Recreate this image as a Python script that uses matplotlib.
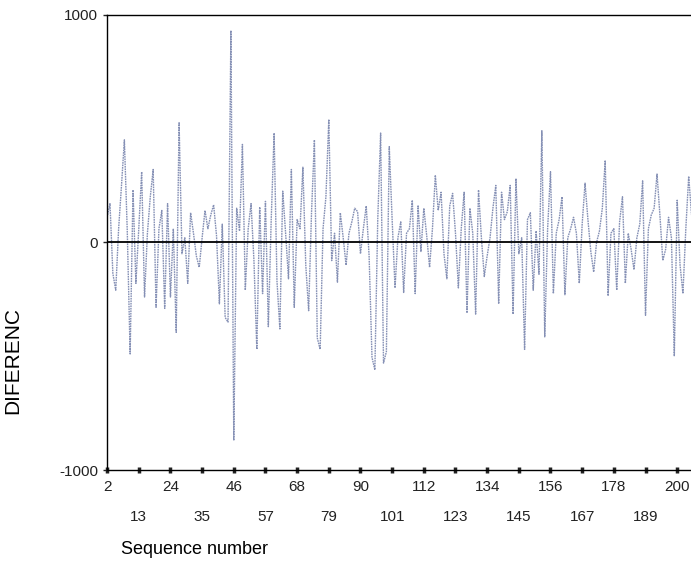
# Grafico de secuencia de las diferencias (estilo SPSS)
import matplotlib
matplotlib.use("Agg")
import matplotlib.pyplot as plt

# datos
secuencia = list(range(2, 206))

diferencias = [
    110, 170, -137, -210, 60, 250, 450, 50, -490, 230,
    -180, 60, 310, -240, 40, 200, 320, -285, 60, 140,
    -290, 170, -240, 60, -395, 525, -50, 20, -180, 130,
    40, -60, -110, 20, 140, 60, 120, 165, 30, -270,
    80, -330, -350, 930, -870, 150, 50, 430, -210, 60,
    170, -80, -470, 155, -225, 180, -370, 100, 480, -170,
    -380, 225, 40, -160, 320, -285, 100, 60, 330, -100,
    -300, 130, 450, -420, -470, 60, 200, 540, -80, 40,
    -175, 130, 20, -100, 40, 90, 150, 135, -50, 60,
    160, -60, -505, -560, 100, 480, -530, -480, 420, 100,
    -200, 20, 90, -220, 40, 60, 185, -225, 160, -40,
    150, 30, -110, 60, 295, 140, 220, -50, -160, 160,
    215, 40, -200, 60, 220, -310, 150, 40, -315, 230,
    20, -150, -60, 20, 150, 250, -270, 220, 100, 135,
    250, -315, 280, -50, 20, -470, 100, 130, -210, 50,
    -140, 490, -415, 60, 310, -225, 40, 100, 200, -230,
    20, 60, 110, 40, -180, 80, 260, 100, -40, -130,
    0, 50, 150, 360, -235, 40, 60, -210, 90, 200,
    -180, 40, -30, -120, 20, 80, 270, -320, 60, 120,
    150, 300, 120, -80, -30, 110, 20, -500, 185, -100,
    -225, 60, 290, 120,
]

marcas_x = list(range(2, 201, 11))
marcas_y = [-1000, 0, 1000]

# fuente parecida a Arial
plt.rcParams["font.family"] = ["Liberation Sans", "DejaVu Sans"]

fig = plt.figure(
    figsize=(6.91, 5.84),
    dpi=100
)

ax = fig.add_axes([0.155, 0.195, 0.845, 0.78])

# serie (trazo punteado fino, como el escaneo)
ax.plot(
    secuencia,
    diferencias[:len(secuencia)],
    color="#8590b5",
    linewidth=1.0,
    linestyle=(0, (1.2, 0.6))
)

# linea de referencia en cero
ax.axhline(
    0,
    color="black",
    linewidth=1.3
)

ax.set_xlim(2, 204.8)
ax.set_ylim(-1000, 1000)

ax.spines["right"].set_visible(False)
for lado in ["left", "bottom", "top"]:
    ax.spines[lado].set_linewidth(1.0)

ax.set_yticks(marcas_y)
ax.set_yticklabels([str(v) for v in marcas_y])

ax.set_xticks(marcas_x)
ax.set_xticklabels([str(v) for v in marcas_x])

ax.tick_params(axis="both", labelsize=11, colors="#222222")
ax.tick_params(axis="x", direction="inout", length=4, width=2.5)
ax.tick_params(axis="y", direction="out", length=3, width=1)

# etiquetas alternadas en dos filas
for i, marca in enumerate(ax.xaxis.get_major_ticks()):
    if i % 2 == 1:
        marca.set_pad(27)
    else:
        marca.set_pad(5)

ax.set_ylabel("DIFERENC", fontsize=15)
ax.yaxis.set_label_coords(-0.145, 0.24)
ax.set_xlabel("Sequence number", fontsize=13)
ax.xaxis.set_label_coords(0.15, -0.155)

fig.savefig("out.png", dpi=100)
